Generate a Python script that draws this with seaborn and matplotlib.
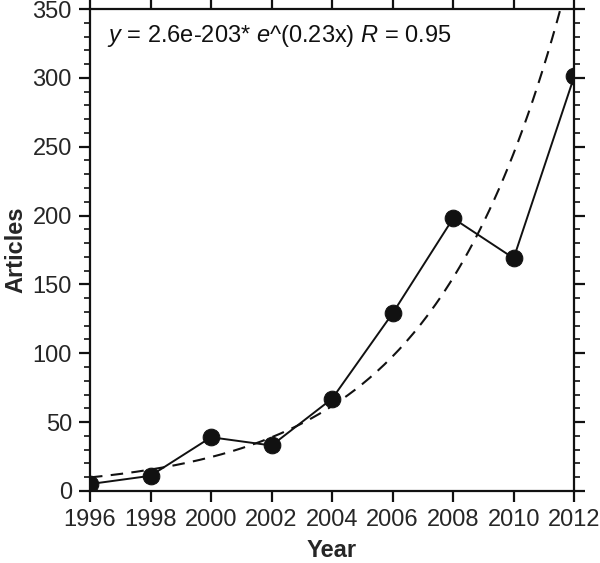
import numpy as np
import pandas as pd
import seaborn as sns
import matplotlib.pyplot as plt
from matplotlib.ticker import MultipleLocator

# Articles per year
years = [1996, 1998, 2000, 2002, 2004, 2006, 2008, 2010, 2012]
articles = [5, 11, 39, 33, 67, 129, 198, 169, 301]

# Exponential fit shown as dashed line (anchored at 1996)
fit_a = 9.8
fit_b = 0.23
fit_label = r"$\it{y}$ = 2.6e-203* $\it{e}$^(0.23x) $\it{R}$ = 0.95"

sns.set_style("ticks")
plt.rcParams['font.family'] = ['Liberation Sans', 'DejaVu Sans']
plt.rcParams['mathtext.fontset'] = 'custom'
plt.rcParams['mathtext.rm'] = 'Liberation Sans'
plt.rcParams['mathtext.it'] = 'Liberation Sans:italic'

df = pd.DataFrame({"Year": years, "Articles": articles})
xs = np.linspace(1996, 2012, 200)
fit = pd.DataFrame({"Year": xs, "Articles": fit_a * np.exp(fit_b * (xs - 1996))})

fig = plt.figure(figsize=(6, 5.63), dpi=100)
ax = fig.add_axes([0.15, 0.128, 0.807, 0.856])

sns.lineplot(data=fit, x="Year", y="Articles", ax=ax, color="#111111",
             linewidth=1.5, dashes=False, linestyle=(0, (6, 4)))
sns.lineplot(data=df, x="Year", y="Articles", ax=ax, color="#111111",
             linewidth=1.4, marker="o", markersize=12, markeredgecolor="#111111")

ax.set_xlim(1996, 2012)
ax.set_ylim(0, 350)
ax.set_xticks(years)
ax.yaxis.set_major_locator(MultipleLocator(50))
ax.yaxis.set_minor_locator(MultipleLocator(10))

for side in ["top", "right", "left", "bottom"]:
    ax.spines[side].set_visible(True)
    ax.spines[side].set_linewidth(1.6)
    ax.spines[side].set_color("#111111")

ax.tick_params(axis="both", which="major", direction="out", length=8, width=1.6,
               labelsize=17, top=True, right=True, color="#111111", pad=5)
ax.tick_params(axis="y", which="minor", direction="out", length=4, width=1.2,
               right=True, color="#111111")

ax.set_xlabel("Year", fontsize=17, fontweight="bold", labelpad=6)
ax.set_ylabel("Articles", fontsize=17, fontweight="bold", labelpad=4)

ax.text(0.035, 0.945, fit_label, transform=ax.transAxes, fontsize=17,
        ha="left", va="center", color="#111111")

fig.savefig("out.png", dpi=100)
